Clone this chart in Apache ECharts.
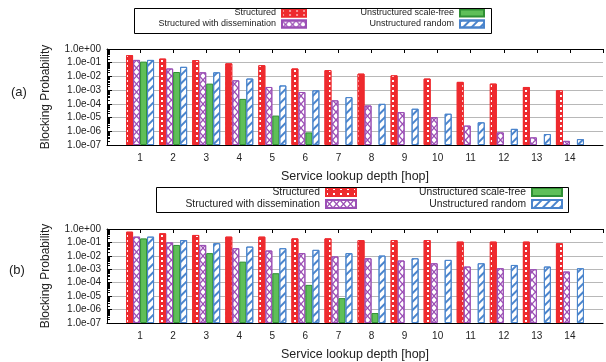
<!DOCTYPE html>
<html>
<head>
<meta charset="utf-8">
<script src="https://cdn.jsdelivr.net/npm/echarts@6/dist/echarts.min.js"></script>
<style>html,body{margin:0;padding:0;background:#fff}#c{width:606px;height:362px}</style>
</head>
<body>
<div id="c"></div>
<script>
const categories = ['1','2','3','4','5','6','7','8','9','10','11','12','13','14'];
const yTickLabels = ['1.0e-07','1.0e-06','1.0e-05','1.0e-04','1.0e-03','1.0e-02','1.0e-01','1.0e+00'];
const seriesNames = ['Structured','Structured with dissemination','Unstructured scale-free','Unstructured random'];

// Panel (a)
const structuredA = [0.36,0.2,0.155,0.09,0.066,0.038,0.029,0.016,0.012,0.007,0.004,0.003,0.0017,0.00097];
const disseminationA = [0.16,0.038,0.02,0.0052,0.0017,7.3e-4,1.8e-4,7.6e-5,2.5e-5,1.07e-5,2.6e-6,8.3e-7,3.6e-7,2e-7];
const scaleFreeA = [0.12,0.021,0.003,2.3e-4,1.4e-5,8.3e-7,null,null,null,null,null,null,null,null];
const randomA = [0.16,0.05,0.02,0.007,0.0022,9.7e-4,3.1e-4,1.0e-4,4.4e-5,1.9e-5,4.5e-6,1.5e-6,6.3e-7,2.7e-7];

// Panel (b)
const structuredB = [0.63,0.48,0.36,0.27,0.27,0.2,0.2,0.15,0.15,0.15,0.115,0.115,0.115,0.087];
const disseminationB = [0.27,0.1,0.065,0.037,0.025,0.016,0.009,0.0066,0.0045,0.0028,0.0016,0.0012,0.001,6.8e-4];
const scaleFreeB = [0.2,0.065,0.016,0.0037,5.1e-4,6.9e-5,7.1e-6,5.5e-7,null,null,null,null,null,null];
const randomB = [0.27,0.15,0.087,0.049,0.037,0.028,0.016,0.0105,0.0066,0.005,0.0028,0.0021,0.0016,0.0012];

// minor log tick multipliers
const minorMultipliers = [2,3,4,5,6,7,8,9];
const decades = [-7,-6,-5,-4,-3,-2,-1];

const FONT = 'Liberation Sans';
const axisData = [''].concat(categories, ['']);
const pad = arr => [null].concat(arr, [null]);

const styles = [
  { color:'#ee2a2e', borderColor:'#ee2a2e', borderWidth:1,
    decal:{ symbol:'rect', symbolSize:1, color:'#ffffff', dashArrayX:[2,5], dashArrayY:[2,3] } },
  { color:'#ffffff', borderColor:'#9b4fb5', borderWidth:1,
    decal:{ symbol:'path://M0 0L1.2 0L10 8.8L10 10L8.8 10L0 1.2Z M8.8 0L10 0L10 1.2L1.2 10L0 10L0 8.8Z', symbolSize:1, symbolKeepAspect:false, color:'#9b4fb5', dashArrayX:[7,0], dashArrayY:[8,0] } },
  { color:'#5fbf58', borderColor:'#2f8f34', borderWidth:1 },
  { color:'#ffffff', borderColor:'#4a84cc', borderWidth:1,
    decal:{ symbol:'rect', symbolSize:1, color:'#4a84cc', dashArrayX:[1,0], dashArrayY:[1.6,3.5], rotation:-Math.PI/4 } }
];

const dataA = [structuredA, disseminationA, scaleFreeA, randomA];
const dataB = [structuredB, disseminationB, scaleFreeB, randomB];

function yAxisFor(grid){
  return {
    type:'log', gridIndex:grid, min:1e-7, max:1, startValue:1e-7, logBase:10,
    axisLine:{show:true, lineStyle:{color:'#000', width:1}},
    axisTick:{show:true, inside:true, length:5, lineStyle:{color:'#000'}},
    minorTick:{show:false},
    splitLine:{show:true, lineStyle:{color:'#b8b8b8', width:1}},
    axisLabel:{fontFamily:FONT, fontSize:10, color:'#222', margin:6,
      formatter:v => { const e = Math.round(Math.log10(v)); return yTickLabels[e+7] || ''; }},
    name:'Blocking Probability', nameLocation:'middle', nameGap:55, nameRotate:90,
    nameTextStyle:{fontFamily:FONT, fontSize:12, color:'#222'}
  };
}
function xBottom(grid){
  return {
    type:'category', gridIndex:grid, data:axisData, boundaryGap:false, position:'bottom',
    axisLine:{show:true, onZero:false, lineStyle:{color:'#000', width:1}},
    axisTick:{show:false},
    axisLabel:{fontFamily:FONT, fontSize:10, color:'#222', margin:8, interval:0},
    splitLine:{show:false},
    name:'Service lookup depth [hop]', nameLocation:'middle', nameGap:25,
    nameTextStyle:{fontFamily:FONT, fontSize:12.5, color:'#222'}
  };
}
function xTop(grid){
  return {
    type:'category', gridIndex:grid, data:axisData, boundaryGap:false, position:'top',
    axisLine:{show:true, onZero:false, lineStyle:{color:'#000', width:1}},
    axisTick:{show:true, inside:true, length:4, interval:0, lineStyle:{color:'#000'}},
    axisLabel:{show:false}, splitLine:{show:false}
  };
}

const series = [];
[dataA, dataB].forEach((d, g) => {
  d.forEach((vals, i) => {
    series.push({
      type:'bar', name:seriesNames[i], xAxisIndex:g*2, yAxisIndex:g,
      data:pad(vals), barWidth:7, barGap:'0%', itemStyle:styles[i], animation:false, silent:true
    });
  });
});

function legendItem(name, right, top, fs, w, h){
  return { show:true, data:[name], right:right, top:top, orient:'horizontal', align:'right',
    padding:0, itemWidth:w, itemHeight:h, itemGap:0, icon:'rect', selectedMode:false,
    textStyle:{fontFamily:FONT, fontSize:fs, color:'#222', padding:[0,1,0,0]} };
}

const legends = [
  legendItem(seriesNames[0], 299, 8.5, 9, 24, 7),
  legendItem(seriesNames[1], 299, 19.5, 9, 24, 7),
  legendItem(seriesNames[2], 121, 8.5, 9, 24, 7),
  legendItem(seriesNames[3], 121, 19.5, 9, 24, 7),
  legendItem(seriesNames[0], 249, 187, 10.3, 30, 8),
  legendItem(seriesNames[1], 249, 199, 10.3, 30, 8),
  legendItem(seriesNames[2], 43, 187, 10.3, 30, 8),
  legendItem(seriesNames[3], 43, 199, 10.3, 30, 8)
];

const baseGraphics = [
  {type:'rect', shape:{x:134.5, y:8.5, width:357, height:25}, style:{fill:'none', stroke:'#000', lineWidth:1}, z:100},
  {type:'rect', shape:{x:156.5, y:187.5, width:412, height:25}, style:{fill:'none', stroke:'#000', lineWidth:1}, z:100},
  {type:'text', left:11, top:86, style:{text:'(a)', fontFamily:FONT, fontSize:13, fill:'#222'}},
  {type:'text', left:9, top:264, style:{text:'(b)', fontFamily:FONT, fontSize:13, fill:'#222'}}
];

const chart = echarts.init(document.getElementById('c'), null, {renderer:'canvas'});
chart.setOption({
  animation:false,
  backgroundColor:'#fff',
  grid:[
    {left:107, top:49, width:510, height:96},
    {left:107, top:229, width:510, height:94}
  ],
  xAxis:[xBottom(0), xTop(0), xBottom(1), xTop(1)],
  yAxis:[yAxisFor(0), yAxisFor(1)],
  legend:legends,
  graphic:baseGraphics,
  series:series
});

// minor log ticks placed through the library's y scales
const minorG = [];
[0,1].forEach(g => {
  const x0 = chart.convertToPixel({xAxisIndex:g*2}, '');
  const xl = chart.convertToPixel({gridIndex:g}, [0, 1])[0];
  decades.forEach(d => {
    minorMultipliers.forEach(m => {
      const y = Math.round(chart.convertToPixel({yAxisIndex:g}, m*Math.pow(10,d))) + 0.5;
      minorG.push({type:'line', shape:{x1:107, y1:y, x2:110, y2:y}, style:{stroke:'#000', lineWidth:1}, z:50, silent:true});
    });
  });
});
chart.setOption({graphic: baseGraphics.concat(minorG)});
</script>
</body>
</html>
